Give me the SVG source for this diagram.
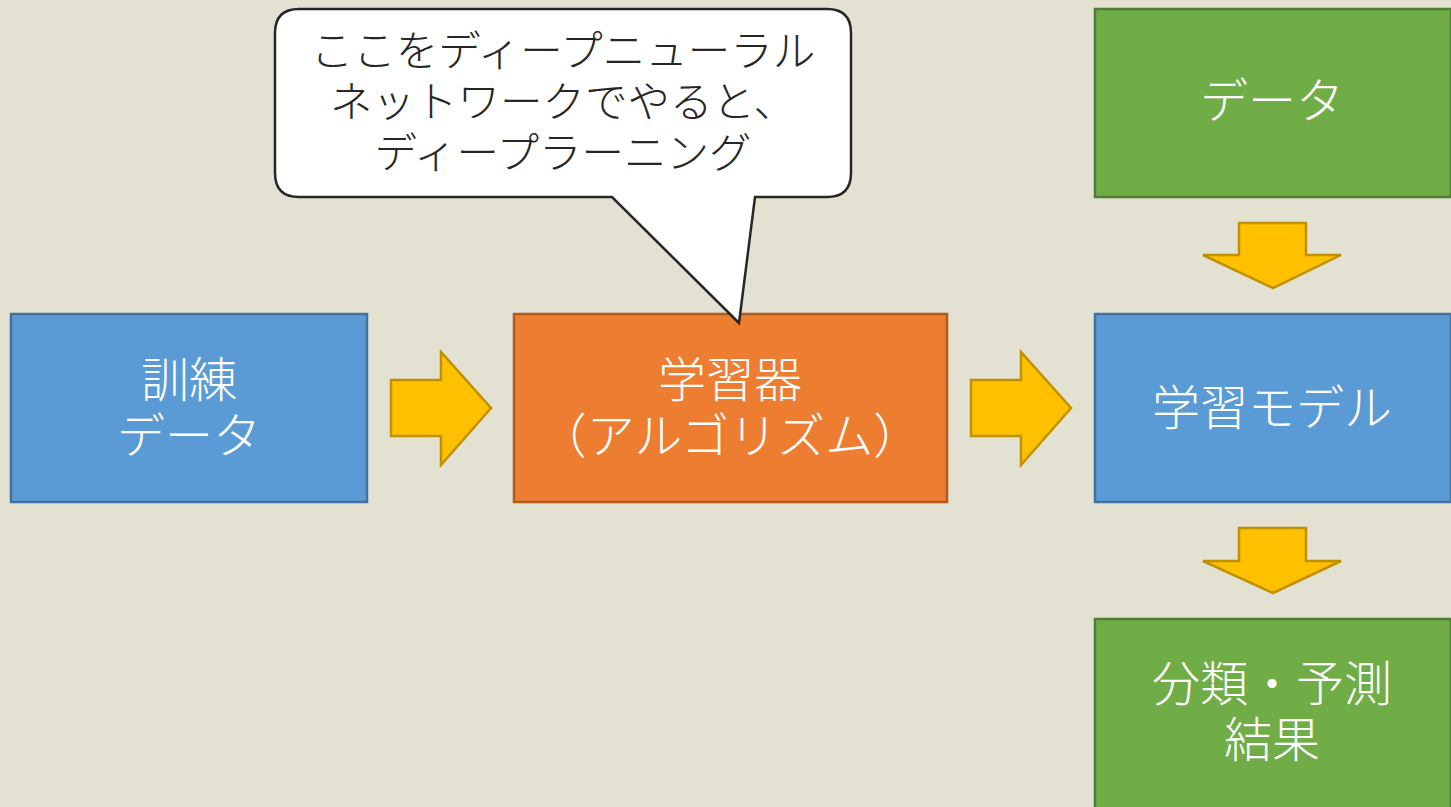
<svg xmlns="http://www.w3.org/2000/svg" width="1451" height="807" viewBox="0 0 1451 807">
<style>
.t{font-family:"Noto Sans CJK JP","Noto Sans CJK SC",sans-serif;font-weight:300;text-anchor:middle}
.w{fill:#ffffff;font-size:48px}
.k{fill:#262626;font-size:42.5px}
.blue{fill:#5B9BD5;stroke:#41719C;stroke-width:2.5}
.orange{fill:#ED7D31;stroke:#AE5A21;stroke-width:2.5}
.green{fill:#70AD47;stroke:#507E32;stroke-width:2.5}
.arrow{fill:#FFC000;stroke:#BF9000;stroke-width:2.5;stroke-linejoin:miter}
</style>
<rect x="0" y="0" width="1451" height="807" fill="#E3E1D1"/>
<g id="connectors">
<polygon class="arrow" points="391,380 441,380 441,352 491,408 441,465 441,436 391,436"/>
<polygon class="arrow" points="971,380 1021,380 1021,352 1071,408 1021,465 1021,436 971,436"/>
<polygon class="arrow" points="1239,223 1306,223 1306,255 1341,255 1273,288 1203,255 1239,255"/>
<polygon class="arrow" points="1239,528 1306,528 1306,561 1341,561 1273,593 1203,561 1239,561"/>
</g>
<g id="training-data">
<rect class="blue" x="11" y="314" width="356" height="188"/>
<text class="t w"><tspan x="189" y="397">訓練</tspan><tspan x="189" y="453">データ</tspan></text>
</g>
<g id="learner">
<rect class="orange" x="514" y="314" width="433" height="188"/>
<text class="t w"><tspan x="730" y="397">学習器</tspan><tspan x="730" y="453">（アルゴリズム）</tspan></text>
</g>
<g id="model">
<rect class="blue" x="1095" y="314" width="356" height="188"/>
<text class="t w" x="1272" y="425">学習モデル</text>
</g>
<g id="data">
<rect class="green" x="1095" y="9" width="356" height="188"/>
<text class="t w" x="1272" y="118">データ</text>
</g>
<g id="result">
<rect class="green" x="1095" y="619" width="356" height="190"/>
<text class="t w"><tspan x="1272" y="701">分類・予測</tspan><tspan x="1272" y="757">結果</tspan></text>
</g>
<g id="callout">
<path d="M299,9 H827 Q851,9 851,33 V173 Q851,197 827,197 H755 L739,323 L612,197 H299 Q275,197 275,173 V33 Q275,9 299,9 Z" fill="#ffffff" stroke="#262626" stroke-width="2.5" stroke-linejoin="miter"/>
<text class="t k"><tspan x="563" y="66">ここをディープニューラル</tspan><tspan x="563" y="117">ネットワークでやると、</tspan><tspan x="563" y="168">ディープラーニング</tspan></text>
</g>
</svg>
